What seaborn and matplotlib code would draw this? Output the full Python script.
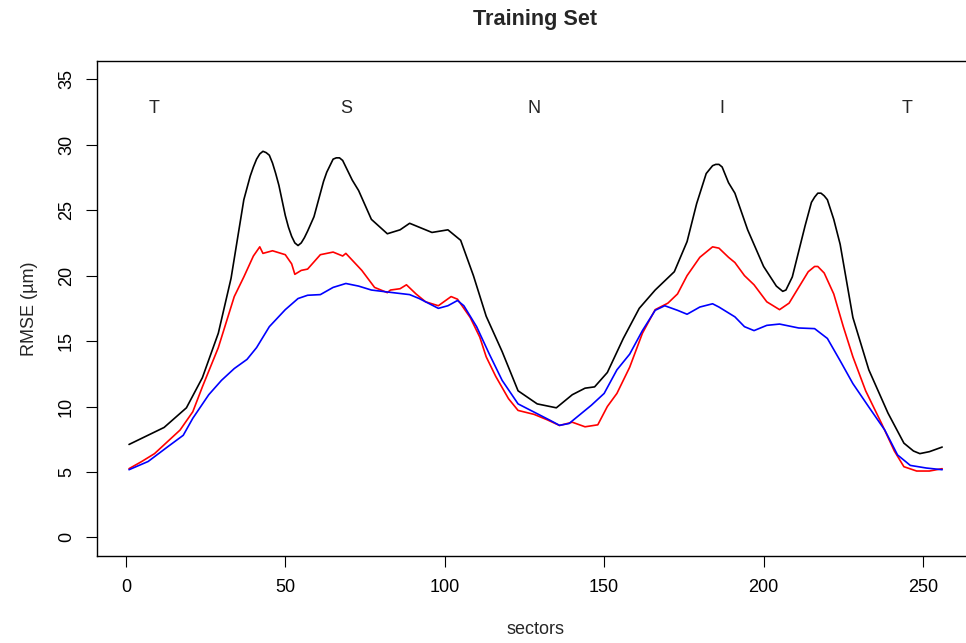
import numpy as np
import pandas as pd
import seaborn as sns
import matplotlib
matplotlib.use("Agg")
import matplotlib.pyplot as plt

# Values (sector -> RMSE in um)
black_x = [1, 12, 19, 24, 29, 33, 37, 39, 40, 41, 42, 43, 44, 45, 46, 47, 48, 50, 51, 52, 53, 54,
           55, 56, 57, 59, 61, 62, 63, 64, 65, 66, 67, 68, 69, 71, 73, 75, 77, 82, 86, 89, 93, 96,
           101, 105, 109, 113, 118, 123, 129, 135, 140, 144, 147, 151, 156, 161, 166, 172, 176,
           179, 182, 184, 185, 186, 187, 189, 191, 195, 200, 204, 206, 207, 209, 213, 215, 216,
           217, 218, 219, 220, 222, 224, 228, 233, 239, 244, 247, 249, 252, 256]
black_y = [7.1, 8.4, 9.9, 12.2, 15.6, 19.8, 25.8, 27.6, 28.3, 28.9, 29.3, 29.5, 29.4, 29.2, 28.6,
           27.8, 26.9, 24.6, 23.7, 23.0, 22.5, 22.3, 22.5, 22.9, 23.4, 24.5, 26.3, 27.2, 27.9, 28.4,
           28.9, 29.0, 29.0, 28.8, 28.3, 27.3, 26.5, 25.4, 24.3, 23.2, 23.5, 24.0, 23.6, 23.3,
           23.5, 22.7, 20.0, 16.9, 14.2, 11.2, 10.2, 9.9, 10.9, 11.4, 11.5, 12.6, 15.2, 17.5,
           18.9, 20.3, 22.6, 25.5, 27.8, 28.4, 28.5, 28.5, 28.3, 27.1, 26.3, 23.5, 20.7, 19.2,
           18.8, 18.9, 19.9, 23.8, 25.6, 26.0, 26.3, 26.3, 26.1, 25.8, 24.3, 22.4, 16.8, 12.8,
           9.5, 7.2, 6.6, 6.4, 6.55, 6.9]

red_x = [1, 5, 9, 13, 17, 21, 24, 29, 34, 37, 40, 42, 43, 46, 50, 52, 53, 55, 57, 61, 65, 68, 69,
         74, 78, 82, 83, 86, 88, 91, 94, 98, 102, 104, 108, 111, 113, 116, 120, 123, 128, 132,
         136, 140, 144, 148, 151, 154, 158, 162, 166, 170, 173, 176, 180, 184, 186, 189, 191,
         194, 197, 201, 205, 208, 211, 214, 216, 217, 219, 222, 225, 228, 232, 237, 241, 244,
         248, 252, 256]
red_y = [5.25, 5.8, 6.4, 7.3, 8.2, 9.6, 11.5, 14.5, 18.4, 19.9, 21.5, 22.2, 21.7, 21.9, 21.6, 20.9,
         20.1, 20.4, 20.5, 21.6, 21.8, 21.5, 21.7, 20.4, 19.1, 18.7, 18.9, 19.0, 19.3, 18.6, 18.0,
         17.7, 18.4, 18.2, 16.8, 15.3, 13.8, 12.3, 10.6, 9.7, 9.4, 9.0, 8.55, 8.8, 8.45, 8.6, 10.0,
         11.0, 13.0, 15.6, 17.4, 17.9, 18.6, 20.0, 21.4, 22.2, 22.1, 21.4, 21.0, 20.0, 19.3, 18.0,
         17.4, 17.9, 19.1, 20.3, 20.7, 20.7, 20.2, 18.6, 16.1, 13.8, 11.2, 8.7, 6.6, 5.4, 5.07,
         5.07, 5.25]

blue_x = [1, 7, 13, 18, 21, 26, 30, 34, 38, 41, 45, 50, 54, 57, 61, 65, 69, 73, 77, 82, 89, 92,
          98, 101, 104, 106, 110, 114, 118, 123, 129, 133, 136, 139, 146, 150, 154, 158, 162,
          166, 169, 173, 176, 180, 184, 186, 189, 191, 194, 197, 201, 205, 211, 216, 220, 224,
          228, 233, 238, 242, 246, 251, 256]
blue_y = [5.17, 5.8, 6.9, 7.8, 9.1, 10.9, 12.0, 12.9, 13.6, 14.5, 16.1, 17.4, 18.25, 18.5, 18.55,
          19.1, 19.4, 19.2, 18.9, 18.75, 18.55, 18.25, 17.5, 17.7, 18.1, 17.7, 16.1, 14.0, 12.0,
          10.2, 9.45, 8.95, 8.56, 8.7, 10.1, 11.0, 12.8, 14.0, 15.8, 17.35, 17.7, 17.35, 17.05,
          17.6, 17.85, 17.6, 17.15, 16.85, 16.1, 15.8, 16.2, 16.3, 16.0, 15.95, 15.2, 13.5, 11.75,
          9.96, 8.2, 6.3, 5.5, 5.3, 5.17]

region_labels = ["T", "S", "N", "I", "T"]
region_x = [9, 69, 128, 187, 245]
region_y = 32.8

x_ticks = [0, 50, 100, 150, 200, 250]
y_ticks = [0, 5, 10, 15, 20, 25, 30, 35]

df = pd.concat([
    pd.DataFrame({"sector": black_x, "rmse": black_y, "series": "black"}),
    pd.DataFrame({"sector": red_x, "rmse": red_y, "series": "red"}),
    pd.DataFrame({"sector": blue_x, "rmse": blue_y, "series": "blue"}),
])

sns.set_style("ticks")
plt.rcParams["font.family"] = ["Liberation Sans", "DejaVu Sans"]

fig = plt.figure(figsize=(9.66, 6.43), dpi=100)
ax = fig.add_axes([96.5 / 966, 1 - 555.7 / 643, 878.2 / 966, 494.7 / 643])

sns.lineplot(data=df, x="sector", y="rmse", hue="series",
             palette={"black": "#000000", "red": "#ff0000", "blue": "#0000ff"},
             estimator=None, sort=False, linewidth=1.2, legend=False, ax=ax)

for lab, xx in zip(region_labels, region_x):
    ax.text(xx, region_y, lab, ha="center", va="center", fontsize=13)

ax.set_xlim(-9.2, 266.2)
ax.set_ylim(-1.4, 36.4)
ax.set_xticks(x_ticks)
ax.set_yticks(y_ticks)
for s in ax.spines.values():
    s.set_linewidth(1.0)
    s.set_color("black")
ax.spines["right"].set_visible(False)
ax.spines["top"].set_visible(True)
ax.tick_params(axis="both", direction="out", length=8, width=0.8, color="black",
               labelsize=13, labelcolor="black")
ax.tick_params(axis="x", pad=9)
ax.tick_params(axis="y", pad=7.5)
for t in ax.get_yticklabels():
    t.set_rotation(90)
    t.set_va("center")

ax.set_xlabel("sectors", fontsize=13, va="center")
ax.set_ylabel("RMSE (µm)", fontsize=13, va="center")
ax.xaxis.set_label_coords(0.5, -0.150)
ax.yaxis.set_label_coords((30 - 96.5) / 878.2, 0.5)

fig.text(535 / 966, 1 - 20 / 643, "Training Set", ha="center", va="center",
         fontsize=15.6, fontweight="bold")

fig.savefig("out.png", dpi=100, facecolor="white")
